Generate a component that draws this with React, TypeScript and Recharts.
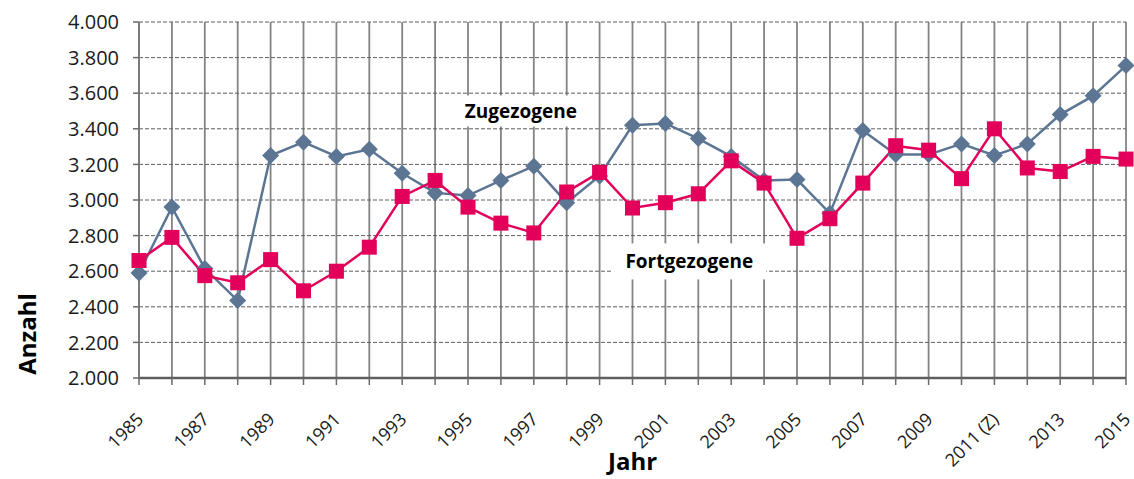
import { LineChart, Line, XAxis, YAxis, CartesianGrid, ReferenceDot, ReferenceLine } from "recharts";

// Jahre (2011 = Zensus)
const years = [
  "1985", "1986", "1987", "1988", "1989", "1990", "1991", "1992", "1993", "1994",
  "1995", "1996", "1997", "1998", "1999", "2000", "2001", "2002", "2003", "2004",
  "2005", "2006", "2007", "2008", "2009", "2010", "2011 (Z)", "2012", "2013", "2014", "2015",
];

const zugezogene = [
  2590, 2960, 2615, 2435, 3250, 3325, 3245, 3285, 3150, 3040,
  3025, 3110, 3190, 2985, 3135, 3420, 3430, 3345, 3245, 3110,
  3115, 2925, 3390, 3255, 3255, 3315, 3250, 3315, 3480, 3585, 3755,
];

const fortgezogene = [
  2660, 2790, 2575, 2535, 2665, 2490, 2600, 2735, 3020, 3110,
  2960, 2870, 2815, 3045, 3155, 2955, 2985, 3035, 3220, 3095,
  2785, 2895, 3095, 3305, 3280, 3120, 3400, 3180, 3160, 3245, 3230,
];

const yTicks = [2000, 2200, 2400, 2600, 2800, 3000, 3200, 3400, 3600, 3800, 4000];

const data = years.map((year, i) => ({
  year,
  zugezogene: zugezogene[i],
  fortgezogene: fortgezogene[i],
}));

const FONT = "'Open Sans', sans-serif";
const BLUE = "#5b7593";
const PINK = "#e3005b";

const formatY = (v: number) => v.toLocaleString("de-DE");

const XTick = (props: any) => {
  const { x, y, payload, index } = props;
  if (index % 2 !== 0) return <g />;
  return (
    <g transform={`translate(${x + 1},${y + 31}) rotate(-45)`}>
      <text
        x={0}
        y={0}
        dy="0.35em"
        textAnchor="end"
        fontSize={18}
        fontFamily={FONT}
        fill="#1a1a1a"
      >
        {payload.value}
      </text>
    </g>
  );
};

const Diamond = (props: any) => {
  const { cx, cy, index } = props;
  if (cx == null || cy == null) return <g key={`d${index}`} />;
  const r = 8.5;
  return (
    <path
      key={`d${index}`}
      d={`M${cx},${cy - r} L${cx + r},${cy} L${cx},${cy + r} L${cx - r},${cy} Z`}
      fill={BLUE}
    />
  );
};

const Square = (props: any) => {
  const { cx, cy, index } = props;
  if (cx == null || cy == null) return <g key={`s${index}`} />;
  const h = 7.5;
  return <rect key={`s${index}`} x={cx - h} y={cy - h} width={h * 2} height={h * 2} fill={PINK} />;
};

const boxLabel = (text: string, w: number, h: number, dx: number) => (props: any) => {
  const { cx, cy } = props;
  return (
    <g>
      <rect x={cx + dx - w / 2} y={cy - h / 2} width={w} height={h} fill="#ffffff" />
      <text
        x={cx + dx}
        y={cy}
        dy="0.35em"
        textAnchor="middle"
        fontSize={19}
        fontWeight={700}
        fontFamily={FONT}
        fill="#000000"
      >
        {text}
      </text>
    </g>
  );
};

export default function App() {
  return (
    <div style={{ position: "absolute", left: 0, top: 0, width: 1134, height: 479, background: "#fff" }}>
      <LineChart
        width={1134}
        height={479}
        data={data}
        margin={{ top: 22, right: 8, left: 0, bottom: 0 }}
      >
        <CartesianGrid horizontal={false} vertical={true} stroke="#848484" strokeWidth={1.8} />
        {yTicks.map((t) => (
          <ReferenceLine key={t} y={t} stroke="#5f5f5f" strokeWidth={1} strokeDasharray="4 2" />
        ))}
        <XAxis
          dataKey="year"
          height={101}
          interval={0}
          tick={<XTick />}
          tickSize={7}
          tickMargin={0}
          tickLine={{ stroke: "#6a6a6a", strokeWidth: 1.5 }}
          axisLine={{ stroke: "#5f5f5f", strokeWidth: 2.5 }}
          label={{
            value: "Jahr",
            position: "insideBottom",
            offset: 9,
            fontSize: 24,
            fontWeight: 700,
            fontFamily: FONT,
            fill: "#000",
          }}
        />
        <YAxis
          width={139}
          domain={[2000, 4000]}
          ticks={yTicks}
          interval={0}
          tickFormatter={formatY}
          tickSize={6}
          tickMargin={14}
          tick={{ fontSize: 20, fontFamily: FONT, fill: "#1a1a1a" }}
          tickLine={{ stroke: "#6a6a6a", strokeWidth: 1.5 }}
          axisLine={{ stroke: "#7a7a7a", strokeWidth: 2 }}
          label={{
            value: "Anzahl",
            content: () => (
              <text
                x={28}
                y={334}
                transform="rotate(-90 28 334)"
                textAnchor="middle"
                dy="0.35em"
                fontSize={24}
                fontWeight={700}
                fontFamily={FONT}
                fill="#000"
              >
                Anzahl
              </text>
            ),
          }}
        />
        <ReferenceDot
          x="1997"
          y={3500}
          r={0}
          ifOverflow="visible"
          shape={boxLabel("Zugezogene", 138, 31, -13)}
        />
        <ReferenceDot
          x="2002"
          y={2655}
          r={0}
          ifOverflow="visible"
          shape={boxLabel("Fortgezogene", 154, 36, -9)}
        />
        <Line
          type="linear"
          dataKey="zugezogene"
          stroke={BLUE}
          strokeWidth={2.5}
          dot={Diamond}
          activeDot={false}
          isAnimationActive={false}
        />
        <Line
          type="linear"
          dataKey="fortgezogene"
          stroke={PINK}
          strokeWidth={2.5}
          dot={Square}
          activeDot={false}
          isAnimationActive={false}
        />
      </LineChart>
    </div>
  );
}
